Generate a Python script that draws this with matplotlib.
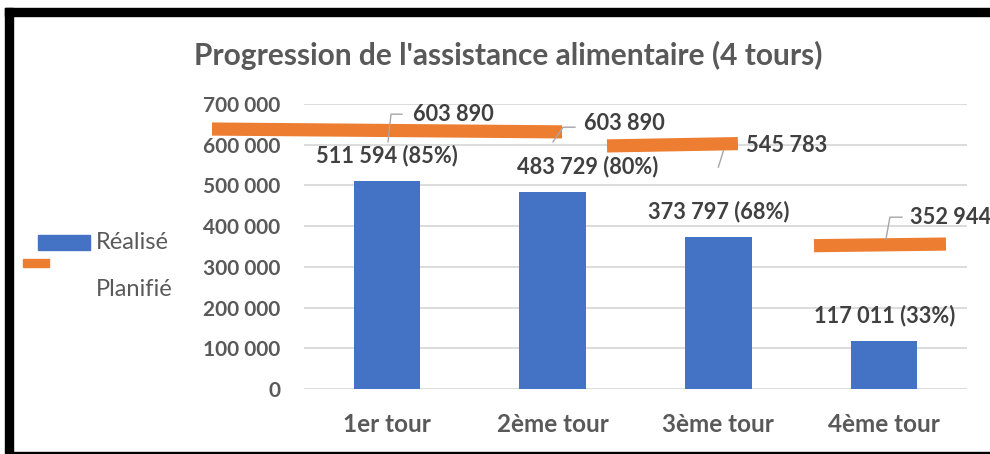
import matplotlib
matplotlib.use("Agg")
import matplotlib.pyplot as plt
from matplotlib.patches import Rectangle
from matplotlib.lines import Line2D

plt.rcParams['font.family'] = ['Lato', 'DejaVu Sans']

# data
tours = ['1er tour', '2ème tour', '3ème tour', '4ème tour']
realise = [511594, 483729, 373797, 117011]
pct = [85, 80, 68, 33]
planifie = [603890, 603890, 545783, 352944]

# orange segments as drawn in the picture (x in category units, y level at each end)
seg_x0 = [-1.055, 1.328, 2.577]
seg_x1 = [1.057, 2.118, 3.373]
seg_y0 = [638500, 597000, 352000]
seg_y1 = [631500, 602700, 356000]

# planned labels (left edge x, centre y) and their leader lines
plan_lab_x = [0.158, 1.19, 2.167, 3.156]
plan_lab_y = [673000, 651000, 597000, 420000]
lead_x = [[0.007, 0.025, 0.091], [1.002, 1.063, 1.135], [2.0, 2.03], [3.011, 3.035, 3.108]]
lead_y = [[607000, 675000, 675000], [607000, 643000, 643000], [545000, 585000], [368000, 422000, 422000]]

# horizontal shift of the bar labels (points)
bar_lab_dx = [0, 25, 0, 0]

grey = '#595959'
dark = '#404040'
blue = '#4472C4'
orange = '#ED7D31'

W, H = 990, 454
fig = plt.figure(figsize=(W / 100, H / 100), dpi=100)
ax = fig.add_axes([304 / W, 1 - 389 / H, (967 - 304) / W, (389 - 104) / H])

x = list(range(len(tours)))
ax.bar(x, realise, width=0.4, color=blue, zorder=2)

for i in range(len(seg_x0)):
    ax.plot([seg_x0[i], seg_x1[i]], [seg_y0[i], seg_y1[i]], color=orange,
            lw=9.5, solid_capstyle='butt', clip_on=False, zorder=3)

for i, v in enumerate(realise):
    ax.annotate(f"{v:,}".replace(',', ' ') + f" ({pct[i]}%)", (i, v),
                xytext=(bar_lab_dx[i], 18.5), textcoords='offset points',
                ha='center', va='center',
                fontsize=15.7, fontweight='bold', color=dark, zorder=4)

for i, v in enumerate(planifie):
    ax.text(plan_lab_x[i], plan_lab_y[i], f"{v:,}".replace(',', ' '),
            ha='left', va='center', fontsize=15.7, fontweight='bold',
            color=dark, clip_on=False, zorder=4)
    ax.add_line(Line2D(lead_x[i], lead_y[i], color='#A6A6A6', lw=1,
                       clip_on=False, zorder=4))

ax.set_xlim(-0.5, 3.5)
ax.set_ylim(0, 700000)
yt = list(range(0, 700001, 100000))
ax.set_yticks(yt)
ax.set_yticklabels(['0' if t == 0 else f"{t:,}".replace(',', ' ') for t in yt])
ax.set_xticks(x)
ax.set_xticklabels(tours)
ax.tick_params(axis='both', length=0, colors=grey)
ax.tick_params(axis='y', pad=17, labelsize=15)
ax.tick_params(axis='x', pad=17, labelsize=17.5)
for lab in ax.get_xticklabels() + ax.get_yticklabels():
    lab.set_fontweight('bold')
    lab.set_color(grey)
ax.grid(axis='y', color='#D9D9D9', lw=1.3, zorder=0)
for s in ax.spines.values():
    s.set_visible(False)

fig.text(508 / W, 1 - 55 / H, "Progression de l'assistance alimentaire (4 tours)",
         ha='center', va='center', fontsize=21.5, fontweight='bold', color=grey)

# legend drawn by hand to match the layout
fig.patches.append(Rectangle((38 / W, 1 - 250 / H), 52 / W, 15 / H,
                             transform=fig.transFigure, color=blue))
fig.patches.append(Rectangle((23 / W, 1 - 267 / H), 26 / W, 8 / H,
                             transform=fig.transFigure, color=orange))
fig.text(96 / W, 1 - 242 / H, 'Réalisé', ha='left', va='center', fontsize=17, color=grey)
fig.text(96 / W, 1 - 290 / H, 'Planifié', ha='left', va='center', fontsize=17, color=grey)

# black frame
fig.patches.append(Rectangle((5 / W, 1 - 16 / H), 985 / W, 8 / H,
                             transform=fig.transFigure, color='black'))
fig.patches.append(Rectangle((5 / W, 1 - 452 / H), 8 / W, 444 / H,
                             transform=fig.transFigure, color='black'))
fig.patches.append(Rectangle((5 / W, 1 - 453 / H), 985 / W, 1.5 / H,
                             transform=fig.transFigure, color='black'))

fig.savefig('out.png', dpi=100)
